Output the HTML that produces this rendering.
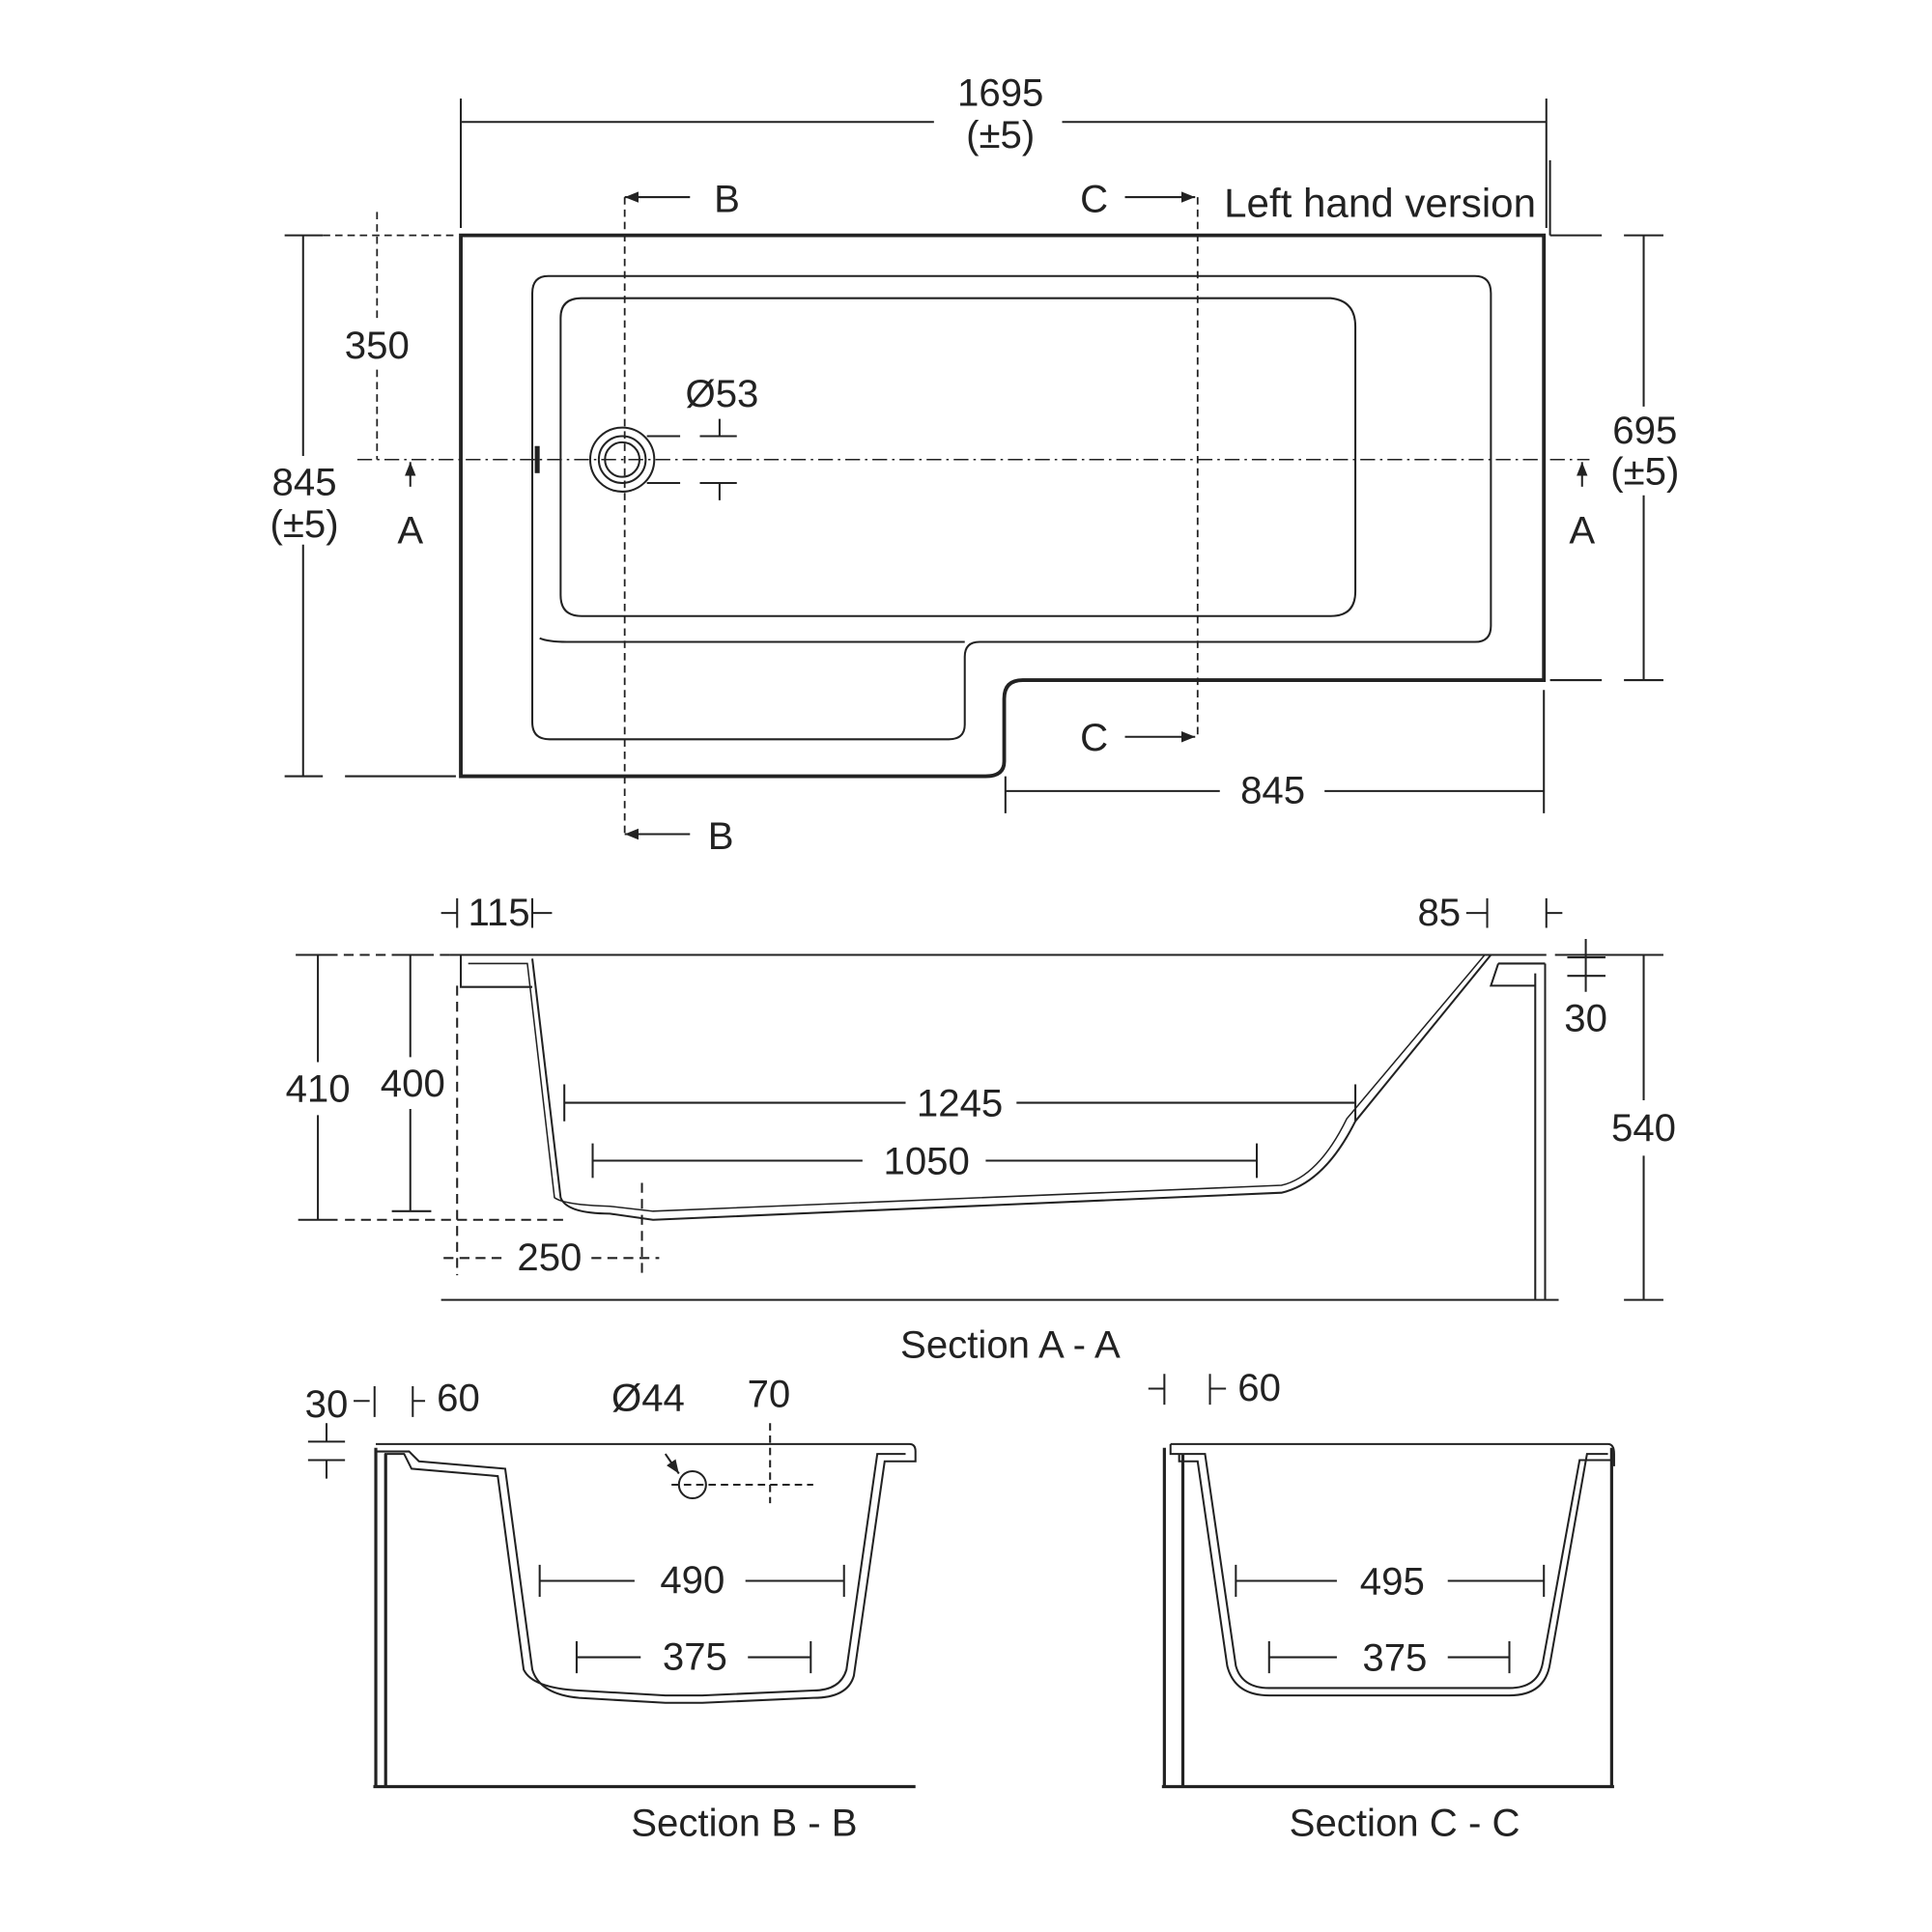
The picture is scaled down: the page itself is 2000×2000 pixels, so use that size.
<!DOCTYPE html>
<html><head><meta charset="utf-8"><style>html,body{margin:0;padding:0;background:#fff}svg{display:block}</style></head><body>
<svg width="2000" height="2000" viewBox="0 0 1568 1568" xmlns="http://www.w3.org/2000/svg" font-family="Liberation Sans, sans-serif" font-size="31.5" fill="none" stroke="#222" stroke-width="1.6">
<defs><marker id="ar" viewBox="0 0 10 10" refX="10" refY="5" markerWidth="7" markerHeight="7" orient="auto-start-reverse"><path d="M0,1 L10,5 L0,9 Z" fill="#222" stroke="none"/></marker></defs>
<g fill="#222" stroke="none" text-anchor="middle">
<text x="812" y="86">1695</text><text x="812" y="120">(±5)</text>
<text x="1120" y="176" font-size="33">Left hand version</text>
<text x="590" y="172">B</text><text x="888" y="172">C</text><text x="888" y="609">C</text><text x="585" y="689">B</text>
<text x="306" y="291">350</text><text x="247" y="402">845</text><text x="247" y="436">(±5)</text>
<text x="1335" y="360">695</text><text x="1335" y="393">(±5)</text>
<text x="333" y="441">A</text><text x="1284" y="441">A</text>
<text x="586" y="330">Ø53</text><text x="1033" y="652">845</text>
<text x="405" y="751">115</text><text x="1168" y="751">85</text><text x="1287" y="837">30</text>
<text x="258" y="894">410</text><text x="335" y="890">400</text><text x="779" y="906">1245</text><text x="752" y="953">1050</text>
<text x="446" y="1031">250</text><text x="1334" y="926">540</text>
<text x="820" y="1102">Section A - A</text>
<text x="265" y="1150">30</text><text x="372" y="1145">60</text><text x="526" y="1145">Ø44</text><text x="624" y="1142">70</text>
<text x="562" y="1293">490</text><text x="564" y="1355">375</text><text x="604" y="1490">Section B - B</text>
<text x="1022" y="1137">60</text><text x="1130" y="1294">495</text><text x="1132" y="1356">375</text><text x="1140" y="1490">Section C - C</text>
</g>
<!-- plan -->
<path d="M374,191 H1253 V552 H830 Q815,552 815,567 V618 Q815,630 800,630 H374 Z" stroke-width="3"/>
<path d="M445,224 H1197 Q1210,224 1210,238 V508 Q1210,521 1197,521 H795 Q783,521 783,533 V588 Q783,600 770,600 H446 Q432,600 432,586 V238 Q432,224 445,224 Z"/>
<path d="M438,518 Q445,521 460,521 H783"/>
<path d="M472,242 H1080 Q1100,244 1100,265 V480 Q1100,500 1080,500 H472 Q455,500 455,483 V258 Q455,242 472,242 Z"/>
<circle cx="505" cy="373" r="26"/><circle cx="505" cy="373" r="19"/><circle cx="505" cy="373" r="14"/>
<path d="M436,362 V384" stroke-width="4"/>
<path d="M290,373 H1290" stroke-dasharray="12,4,2,4" stroke-width="1.2"/>
<path d="M507,160 V680 M972,160 V600 M306,172 V262 M306,300 V373 M262,191 H370" stroke-dasharray="6,4" stroke-width="1.4"/>
<path d="M560,160 H507" marker-end="url(#ar)"/><path d="M913,160 H970" marker-end="url(#ar)"/>
<path d="M913,598 H970" marker-end="url(#ar)"/><path d="M560,677 H507" marker-end="url(#ar)"/>
<path d="M333,395 V375" marker-end="url(#ar)"/><path d="M1284,395 V375" marker-end="url(#ar)"/>
<path d="M374,99 H758 M862,99 H1255 M374,80 V185 M1255,80 V185 M1258,191 V130"/>
<path d="M246,191 V370 M246,442 V630 M231,191 H262 M231,630 H262 M280,630 H370"/>
<path d="M1334,191 V330 M1334,402 V552 M1318,191 H1350 M1318,552 H1350 M1258,191 H1300 M1258,552 H1300"/>
<path d="M816,642 H990 M1075,642 H1253 M816,630 V660 M1253,560 V660"/>
<path d="M568,354 H598 M584,340 V354 M568,392 H598 M584,392 V406 M525,354 H552 M525,392 H552"/>
<!-- section A -->
<path d="M365,775 H1255 M358,1055 H1265"/>
<path d="M374,775 V801 H432 M432,778 L455,972 Q460,985 495,985 L530,990 L1040,968 Q1075,960 1100,910 L1210,775"/>
<path d="M380,782 H428 L450,972 Q458,978 495,979 L530,983 L1040,962 Q1070,955 1093,908 L1205,775" stroke-width="1.2"/>
<path d="M1216,782 H1254 M1246,790 V1055 M1254,782 V1055 M1216,782 L1210,800 H1246"/>
<path d="M258,775 V862 M258,905 V990 M242,775 H274 M242,990 H274 M333,775 V858 M333,900 V983 M318,775 H350 M318,983 H350"/>
<path d="M240,775 H365 M280,990 H460 M371,800 V1035 M521,960 V1035 M360,1021 H410 M480,1021 H535" stroke-dasharray="8,5"/>
<path d="M458,895 H735 M825,895 H1100 M458,880 V910 M1100,880 V910 M481,942 H700 M800,942 H1020 M481,928 V956 M1020,928 V956"/>
<path d="M358,741 H371 M371,729 V753 M432,729 V753 M432,741 H448 M1190,741 H1207 M1207,729 V753 M1255,729 V753 M1255,741 H1268"/>
<path d="M1287,762 V792 M1272,777 H1303 M1272,792 H1303 M1287,792 V805"/>
<path d="M1334,775 V893 M1334,938 V1055 M1318,775 H1350 M1318,1055 H1350 M1262,775 H1318"/>
<!-- section B -->
<path d="M305,1172 H738 Q743,1172 743,1178 V1186 H718 L693,1360 Q688,1378 660,1378 L570,1382 H540 L470,1378 Q438,1375 432,1355 L410,1192 L340,1186 L332,1178 H305"/>
<path d="M312,1180 H328 L334,1192 L404,1198 L425,1355 Q432,1370 470,1372 L540,1376 H570 L660,1372 Q682,1372 687,1355 L712,1180 H735"/>
<path d="M305,1175 V1450 M313,1180 V1450 M303,1450 H743" stroke-width="2.5"/>
<circle cx="562" cy="1205" r="11"/>
<path d="M545,1205 H660 M625,1155 V1220" stroke-dasharray="6,4"/>
<path d="M551,1196 L540,1180" marker-start="url(#ar)"/>
<path d="M438,1283 H515 M605,1283 H685 M438,1270 V1296 M685,1270 V1296 M468,1345 H520 M607,1345 H658 M468,1332 V1358 M658,1332 V1358"/>
<path d="M287,1137 H300 M304,1125 V1150 M335,1125 V1150 M335,1137 H345 M265,1155 V1170 M250,1170 H280 M250,1185 H280 M265,1185 V1200"/>
<!-- section C -->
<path d="M950,1172 H1305 Q1310,1172 1310,1180 V1190 M950,1172 V1180 H978 L1003,1352 Q1008,1370 1030,1370 H1225 Q1248,1370 1252,1350 L1282,1185 H1308"/>
<path d="M957,1180 V1186 H972 L996,1352 Q1002,1376 1030,1376 H1225 Q1254,1376 1258,1350 L1288,1180 H1305"/>
<path d="M945,1175 V1450 M960,1180 V1450 M943,1450 H1310 M1308,1175 V1450" stroke-width="2.5"/>
<path d="M1003,1283 H1085 M1175,1283 H1253 M1003,1270 V1296 M1253,1270 V1296 M1030,1345 H1085 M1175,1345 H1225 M1030,1332 V1358 M1225,1332 V1358"/>
<path d="M932,1127 H945 M945,1115 V1140 M982,1115 V1140 M982,1127 H995"/>
</svg>
</body></html>
